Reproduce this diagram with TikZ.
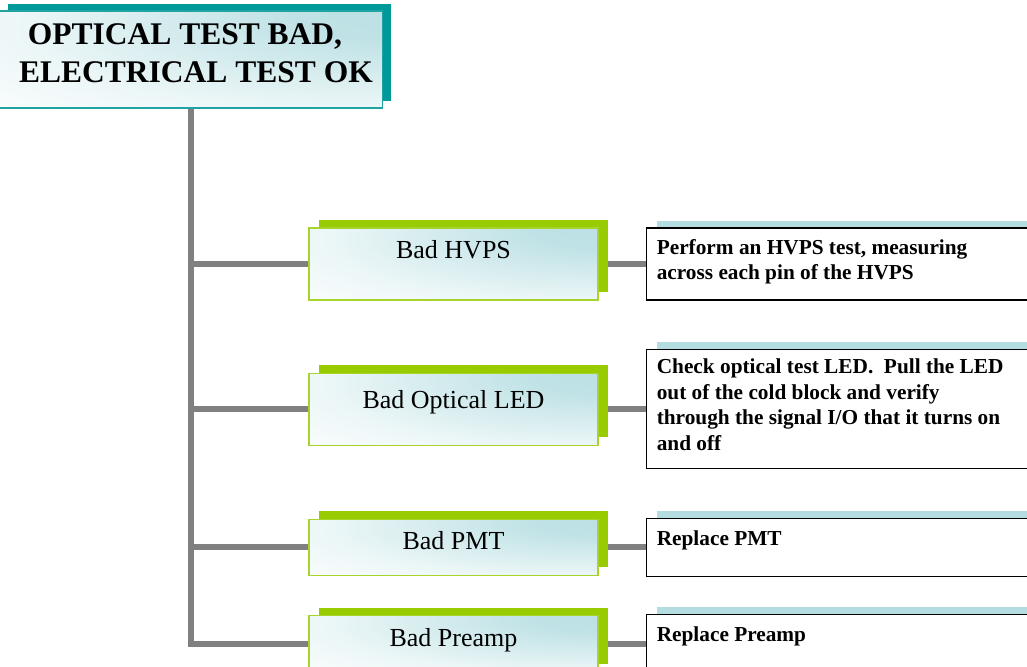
\documentclass[tikz,border=0pt]{standalone}
\usepackage{fontspec}
\setmainfont{Liberation Serif}
\usepackage{tikz}
\usetikzlibrary{positioning,shadows,backgrounds}
\usepackage{xcolor}
\definecolor{headteal}{HTML}{009999}
\definecolor{headline}{HTML}{1FA3A3}
\definecolor{lime}{HTML}{99CC00}
\definecolor{limeline}{HTML}{A6D42A}
\definecolor{paleteal}{HTML}{B9DFE3}
\definecolor{barteal}{HTML}{B4DDE1}
\definecolor{linkgray}{HTML}{808080}
\pgfdeclareradialshading{tealglow}{\pgfpoint{32bp}{28bp}}{color(0bp)=(paleteal); color(14bp)=(paleteal!90!white); color(42bp)=(paleteal!25!white); color(62bp)=(white); color(100bp)=(white)}

\begin{document}
\begin{tikzpicture}[x=1pt,y=-1pt,node distance = 72pt]
\tikzstyle{headbox} = [rectangle, draw = headline, line width = 1.2pt, minimum width = 383pt, minimum height = 97pt,
                       shade, shading = tealglow,
                       drop shadow = {shadow xshift = 8pt, shadow yshift = 7pt, fill = headteal, opacity = 1}]
\tikzstyle{faultbox} = [rectangle, draw = limeline, line width = 1.2pt, minimum width = 289pt, minimum height = 72pt,
                        shade, shading = tealglow,
                        drop shadow = {shadow xshift = 10pt, shadow yshift = 8pt, fill = lime, opacity = 1}]
\tikzstyle{lowfault} = [minimum height = 56pt]
\tikzstyle{actionbox} = [rectangle, draw = black, line width = 1.5pt, fill = white, minimum width = 395pt, anchor = west,
                         drop shadow = {shadow xshift = 11pt, shadow yshift = 7.5pt, fill = barteal, opacity = 1}]
\tikzstyle{headtext} = [anchor = north, align = center, inner sep = 0pt, font = \bfseries\fontsize{31.5}{38}\selectfont]
\tikzstyle{faulttext} = [anchor = base, inner sep = 0pt, font = \fontsize{26}{31}\selectfont]
\tikzstyle{actiontext} = [anchor = north west, align = left, inner sep = 0pt, font = \bfseries\fontsize{21.3}{25.5}\selectfont]
\tikzstyle{link} = [draw = linkgray, line width = 6pt]

\useasboundingbox (0,0) rectangle (1027,666);
\clip (0,0) rectangle (1027,666);

\node[headbox]              (0) at (191,59.5)     {};
\node[headtext]             (t0) at ([xshift=5pt,yshift=-13pt]0.north) {OPTICAL TEST BAD,\rule{22pt}{0pt}\\ELECTRICAL TEST OK};

\node[faultbox]                     (1) at (453.5,264) {};
\node[faultbox][below=of 1]         (2)                {};
\node[faultbox, lowfault][below=73pt of 2] (3)         {};
\node[faultbox, lowfault][below=39pt of 3] (4)         {};

\node[faulttext] (t1) at ([yshift=-31pt]1.north) {Bad HVPS};
\node[faulttext] (t2) at ([yshift=-36pt]2.north) {Bad Optical LED};
\node[faulttext] (t3) at ([yshift=-31pt]3.north) {Bad PMT};
\node[faulttext] (t4) at ([yshift=-31pt]4.north) {Bad Preamp};

\node[actionbox, minimum height = 72pt][right=47pt of 1]  (5) {};
\node[actionbox, minimum height = 119pt][right=47pt of 2] (6) {};
\node[actionbox, minimum height = 58pt][right=47pt of 3]  (7) {};
\node[actionbox, minimum height = 58pt][right=47pt of 4]  (8) {};

\node[actiontext] (s5) at ([xshift=11pt,yshift=-12pt]5.north west) {Perform an HVPS test, measuring\\across each pin of the HVPS};
\node[actiontext] (s6) at ([xshift=11pt,yshift=-10pt]6.north west) {Check optical test LED.\ \ Pull the LED\\out of the cold block and verify\\through the signal I/O that it turns on\\and off};
\node[actiontext] (s7) at ([xshift=11pt,yshift=-13pt]7.north west) {Replace PMT};
\node[actiontext] (s8) at ([xshift=11pt,yshift=-13pt]8.north west) {Replace Preamp};

\begin{scope}[on background layer]
\path[link]
(0.south) |- (4.west)
(1.west) -- (1.west -| 0.south)
(2.west) -- (2.west -| 0.south)
(3.west) -- (3.west -| 0.south)
(1.east) -- (1.east -| 5.west)
(2.east) -- (2.east -| 6.west)
(3.east) -- (3.east -| 7.west)
(4.east) -- (4.east -| 8.west);
\end{scope}
\end{tikzpicture}
\end{document}
